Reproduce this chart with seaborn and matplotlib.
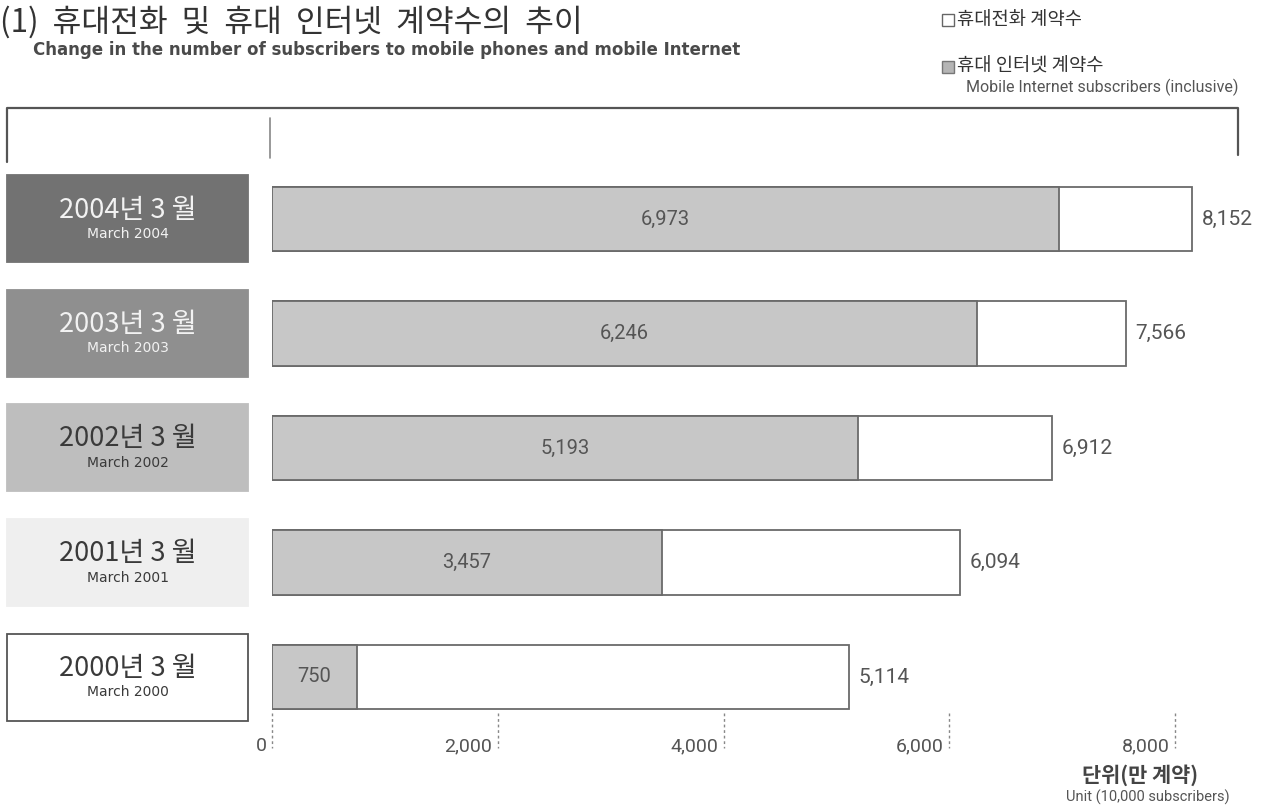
import matplotlib
matplotlib.use("Agg")
import matplotlib.pyplot as plt
from matplotlib.lines import Line2D
from matplotlib.patches import Rectangle
from matplotlib.transforms import blended_transform_factory, ScaledTranslation
import seaborn as sns
import pandas as pd

# Data (units: 10,000 subscribers)
periods_ko = ["2004년 3 월", "2003년 3 월", "2002년 3 월", "2001년 3 월", "2000년 3 월"]
periods_en = ["March 2004", "March 2003", "March 2002", "March 2001", "March 2000"]
mobile_total = [8152, 7566, 6912, 6094, 5114]
mobile_internet = [6973, 6246, 5193, 3457, 750]
x_ticks = [0, 2000, 4000, 6000, 8000]
x_tick_labels = ["0", "2,000", "4,000", "6,000", "8,000"]

box_fill = ["#727272", "#8f8f8f", "#bebebe", "#efefef", "#ffffff"]
box_text = ["#f2f2f2", "#f2f2f2", "#3a3a3a", "#3a3a3a", "#3a3a3a"]

sns.set_theme(style="white")
plt.rcParams["font.family"] = ["Noto Sans CJK KR", "DejaVu Sans"]

W, H = 1262, 805
fig = plt.figure(figsize=(W / 100, H / 100), dpi=100)
fig.patch.set_facecolor("white")


def fx(px):
    return px / W


def fy(py):
    return 1 - py / H


# bar axes: x=0 at px 272, 2000 units per ~225.75 px; rows 114.5 px apart
x0_px, scale = 272, 225.75 / 2000
ax_top_px, ax_bot_px = 100, 733
row0_px, row_step = 219, 114.5
ax = fig.add_axes([fx(x0_px), fy(ax_bot_px), fx(W - x0_px), (ax_bot_px - ax_top_px) / H])

df = pd.DataFrame({"period": periods_ko, "total": mobile_total, "internet": mobile_internet})

sns.barplot(data=df, x="total", y="period", orient="h", color="white",
            edgecolor="#6a6a6a", linewidth=1.3, width=0.56, ax=ax, saturation=1)
sns.barplot(data=df, x="internet", y="period", orient="h", color="#c7c7c7",
            edgecolor="#6a6a6a", linewidth=1.3, width=0.56, ax=ax, saturation=1)

ax.set_xlim(0, (W - x0_px) / scale)
ax.set_ylim((ax_bot_px - row0_px) / row_step, (ax_top_px - row0_px) / row_step)
for s in ax.spines.values():
    s.set_visible(False)
ax.set_xlabel("")
ax.set_ylabel("")
ax.set_yticks([])
ax.set_xticks(x_ticks)
ax.set_xticklabels(x_tick_labels, fontsize=14, color="#555555", family="Roboto")
ax.tick_params(axis="x", length=0, pad=3)
for lab in ax.get_xticklabels():
    lab.set_horizontalalignment("right")
    lab.set_transform(lab.get_transform() + ScaledTranslation(-4 / 72, 0, fig.dpi_scale_trans))

# dashed tick guides under the bars
y_a = (713 - row0_px) / row_step
y_b = (748 - row0_px) / row_step
ax.vlines(x_ticks, y_a, y_b, colors="#888888", linestyles=(0, (2, 2)), linewidth=1, clip_on=False)

# value labels
for i, (tot, net) in enumerate(zip(mobile_total, mobile_internet)):
    ax.text(net / 2, i, f"{net:,}", ha="center", va="center", fontsize=14.5,
            color="#555555", family="Roboto")
    ax.text(tot + 85, i, f"{tot:,}", ha="left", va="center", fontsize=15,
            color="#555555", family="Roboto")

# period boxes on the left
tr = blended_transform_factory(fig.transFigure, ax.transData)
box_h = 87 / row_step
for i in range(len(periods_ko)):
    edge = "#555555" if box_fill[i] == "#ffffff" else box_fill[i]
    ax.add_patch(Rectangle((fx(7), i - box_h / 2), fx(248) - fx(7), box_h, transform=tr,
                           facecolor=box_fill[i], edgecolor=edge, linewidth=1.3, clip_on=False))
    ax.text(fx(128), i - 9 / row_step, periods_ko[i], transform=tr, ha="center", va="center",
            fontsize=19.5, color=box_text[i], clip_on=False)
    ax.text(fx(128), i + 15 / row_step, periods_en[i], transform=tr, ha="center", va="center",
            fontsize=10, color=box_text[i], clip_on=False, family="DejaVu Sans")


# bracket above the chart
def fig_line(xs, ys, lw=1.6, color="#555555"):
    fig.add_artist(Line2D([fx(x) for x in xs], [fy(y) for y in ys], lw=lw, color=color))


fig_line([7, 7, 1238, 1238], [162, 108, 108, 155])
fig_line([270, 270], [118, 158], lw=1.2, color="#888888")

# title
fig.text(fx(0), fy(22), "(1)  휴대전화  및  휴대  인터넷  계약수의  추이", fontsize=22.5,
         color="#333333", va="center", ha="left")
fig.text(fx(33), fy(50), "Change in the number of subscribers to mobile phones and mobile Internet",
         fontsize=12, fontweight="bold", color="#4a4a4a", va="center", ha="left",
         family="DejaVu Sans")

# legend
fig.add_artist(Rectangle((fx(942), fy(26)), fx(12), 12 / H, transform=fig.transFigure,
                         facecolor="white", edgecolor="#666666", lw=1))
fig.add_artist(Rectangle((fx(942), fy(73)), fx(12), 12 / H, transform=fig.transFigure,
                         facecolor="#b5b5b5", edgecolor="#777777", lw=1))
fig.text(fx(957), fy(20), "휴대전화 계약수", fontsize=13.5, color="#333333", va="center")
fig.text(fx(957), fy(66), "휴대 인터넷 계약수", fontsize=13.5, color="#333333", va="center")
fig.text(fx(1238), fy(87), "Mobile Internet subscribers (inclusive)", fontsize=11.5,
         color="#555555", va="center", ha="right", family="Roboto")

# unit note
fig.text(fx(1140), fy(775), "단위(만 계약)", fontsize=15, fontweight="bold", color="#444444",
         va="center", ha="center")
fig.text(fx(1148), fy(797), "Unit (10,000 subscribers)", fontsize=10.5, color="#555555",
         va="center", ha="center", family="Roboto")

fig.savefig("out.png", dpi=100, facecolor="white")
